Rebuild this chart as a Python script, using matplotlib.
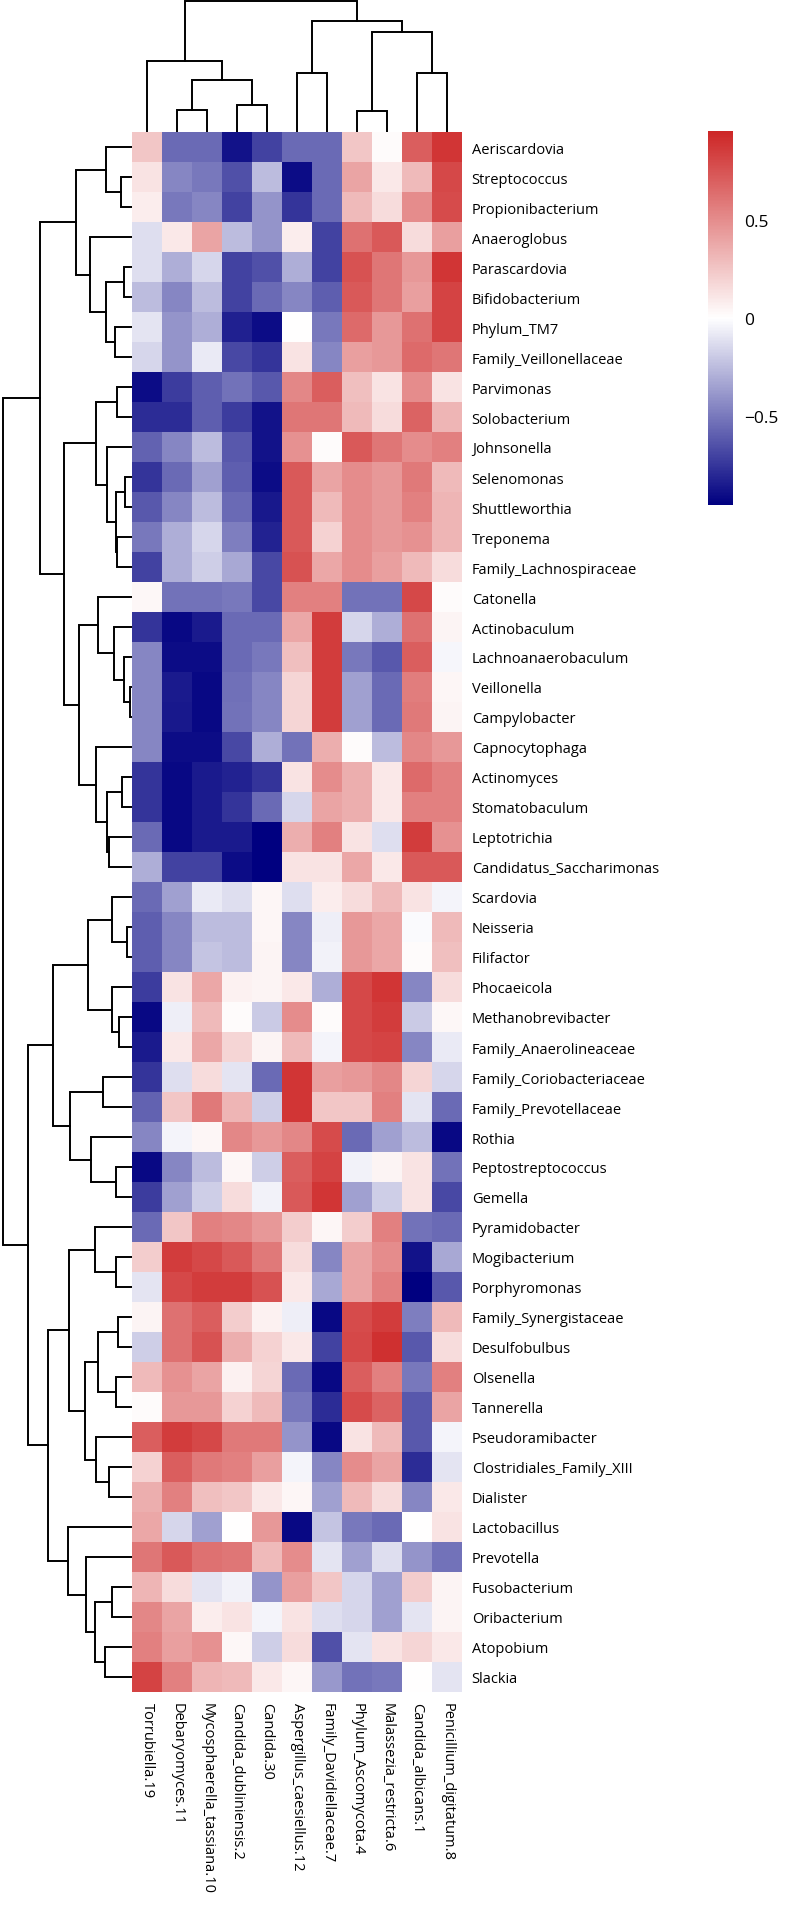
import matplotlib
matplotlib.use('Agg')
import matplotlib.pyplot as plt
from matplotlib.colors import LinearSegmentedColormap
import numpy as np

plt.rcParams['font.family'] = ['Open Sans', 'DejaVu Sans']

fungi = ['Torrubiella.19', 'Debaryomyces.11', 'Mycosphaerella_tassiana.10',
         'Candida_dubliniensis.2', 'Candida.30', 'Aspergillus_caesiellus.12',
         'Family_Davidiellaceae.7', 'Phylum_Ascomycota.4', 'Malassezia_restricta.6',
         'Candida_albicans.1', 'Penicillium_digitatum.8']

bacteria = ['Aeriscardovia', 'Streptococcus', 'Propionibacterium', 'Anaeroglobus',
            'Parascardovia', 'Bifidobacterium', 'Phylum_TM7', 'Family_Veillonellaceae',
            'Parvimonas', 'Solobacterium', 'Johnsonella', 'Selenomonas', 'Shuttleworthia',
            'Treponema', 'Family_Lachnospiraceae', 'Catonella', 'Actinobaculum',
            'Lachnoanaerobaculum', 'Veillonella', 'Campylobacter', 'Capnocytophaga',
            'Actinomyces', 'Stomatobaculum', 'Leptotrichia', 'Candidatus_Saccharimonas',
            'Scardovia', 'Neisseria', 'Filifactor', 'Phocaeicola', 'Methanobrevibacter',
            'Family_Anaerolineaceae', 'Family_Coriobacteriaceae', 'Family_Prevotellaceae',
            'Rothia', 'Peptostreptococcus', 'Gemella', 'Pyramidobacter', 'Mogibacterium',
            'Porphyromonas', 'Family_Synergistaceae', 'Desulfobulbus', 'Olsenella',
            'Tannerella', 'Pseudoramibacter', 'Clostridiales_Family_XIII', 'Dialister',
            'Lactobacillus', 'Prevotella', 'Fusobacterium', 'Oribacterium', 'Atopobium',
            'Slackia']

# correlation values, rows = bacteria, cols = fungi
corr = [
    [0.25, -0.55, -0.55, -0.88, -0.70, -0.55, -0.55, 0.25, 0.02, 0.70, 0.88],
    [0.12, -0.45, -0.50, -0.65, -0.25, -0.90, -0.55, 0.40, 0.10, 0.30, 0.80],
    [0.08, -0.50, -0.45, -0.70, -0.40, -0.75, -0.55, 0.30, 0.15, 0.50, 0.78],
    [-0.12, 0.10, 0.40, -0.25, -0.40, 0.08, -0.70, 0.62, 0.72, 0.15, 0.42],
    [-0.12, -0.30, -0.15, -0.70, -0.65, -0.30, -0.70, 0.75, 0.60, 0.45, 0.88],
    [-0.25, -0.45, -0.25, -0.70, -0.55, -0.45, -0.60, 0.72, 0.60, 0.42, 0.82],
    [-0.10, -0.40, -0.30, -0.83, -0.90, 0.00, -0.50, 0.65, 0.45, 0.62, 0.82],
    [-0.15, -0.40, -0.08, -0.68, -0.75, 0.12, -0.45, 0.42, 0.45, 0.65, 0.60],
    [-0.90, -0.72, -0.60, -0.52, -0.62, 0.52, 0.70, 0.28, 0.12, 0.50, 0.12],
    [-0.78, -0.78, -0.60, -0.72, -0.88, 0.60, 0.60, 0.30, 0.15, 0.68, 0.32],
    [-0.58, -0.45, -0.25, -0.62, -0.88, 0.48, 0.02, 0.72, 0.60, 0.50, 0.55],
    [-0.75, -0.55, -0.35, -0.60, -0.90, 0.72, 0.40, 0.50, 0.45, 0.58, 0.30],
    [-0.62, -0.45, -0.25, -0.55, -0.86, 0.72, 0.30, 0.50, 0.45, 0.55, 0.32],
    [-0.50, -0.30, -0.15, -0.48, -0.82, 0.72, 0.20, 0.50, 0.45, 0.48, 0.32],
    [-0.70, -0.30, -0.18, -0.32, -0.68, 0.75, 0.38, 0.50, 0.42, 0.30, 0.15],
    [0.03, -0.52, -0.52, -0.50, -0.68, 0.55, 0.55, -0.52, -0.52, 0.80, 0.02],
    [-0.75, -0.92, -0.85, -0.55, -0.55, 0.38, 0.85, -0.15, -0.30, 0.62, 0.05],
    [-0.45, -0.90, -0.90, -0.55, -0.50, 0.28, 0.85, -0.50, -0.62, 0.70, -0.03],
    [-0.45, -0.85, -0.92, -0.53, -0.45, 0.18, 0.85, -0.35, -0.55, 0.57, 0.04],
    [-0.45, -0.86, -0.92, -0.52, -0.45, 0.18, 0.85, -0.35, -0.55, 0.58, 0.05],
    [-0.45, -0.90, -0.90, -0.68, -0.30, -0.52, 0.35, 0.02, -0.25, 0.52, 0.45],
    [-0.75, -0.92, -0.85, -0.82, -0.75, 0.12, 0.50, 0.35, 0.10, 0.65, 0.55],
    [-0.75, -0.92, -0.85, -0.75, -0.55, -0.15, 0.40, 0.35, 0.10, 0.55, 0.55],
    [-0.55, -0.92, -0.85, -0.85, -0.95, 0.35, 0.55, 0.12, -0.12, 0.85, 0.48],
    [-0.30, -0.70, -0.70, -0.90, -0.95, 0.12, 0.12, 0.38, 0.10, 0.72, 0.72],
    [-0.55, -0.35, -0.08, -0.12, 0.04, -0.12, 0.08, 0.15, 0.30, 0.12, -0.04],
    [-0.60, -0.45, -0.25, -0.25, 0.04, -0.45, -0.06, 0.45, 0.38, -0.02, 0.30],
    [-0.60, -0.45, -0.22, -0.25, 0.05, -0.45, -0.05, 0.45, 0.38, 0.02, 0.28],
    [-0.72, 0.12, 0.38, 0.06, 0.05, 0.10, -0.30, 0.80, 0.88, -0.45, 0.15],
    [-0.92, -0.06, 0.30, 0.02, -0.20, 0.50, 0.02, 0.80, 0.85, -0.20, 0.03],
    [-0.85, 0.10, 0.38, 0.18, 0.05, 0.30, -0.04, 0.80, 0.82, -0.45, -0.08],
    [-0.75, -0.12, 0.15, -0.10, -0.55, 0.88, 0.42, 0.45, 0.52, 0.18, -0.15],
    [-0.58, 0.25, 0.58, 0.32, -0.18, 0.88, 0.25, 0.25, 0.55, -0.10, -0.55],
    [-0.45, -0.04, 0.04, 0.52, 0.45, 0.52, 0.78, -0.55, -0.35, -0.25, -0.92],
    [-0.92, -0.45, -0.25, 0.04, -0.18, 0.70, 0.82, -0.05, 0.05, 0.12, -0.52],
    [-0.72, -0.35, -0.18, 0.15, -0.05, 0.72, 0.88, -0.35, -0.18, 0.12, -0.68],
    [-0.55, 0.25, 0.55, 0.52, 0.45, 0.22, 0.04, 0.22, 0.55, -0.52, -0.55],
    [0.22, 0.85, 0.80, 0.72, 0.58, 0.15, -0.45, 0.40, 0.50, -0.88, -0.32],
    [-0.10, 0.80, 0.85, 0.85, 0.75, 0.10, -0.32, 0.40, 0.55, -0.98, -0.62],
    [0.05, 0.62, 0.70, 0.22, 0.06, -0.06, -0.92, 0.78, 0.85, -0.48, 0.30],
    [-0.18, 0.62, 0.75, 0.35, 0.20, 0.10, -0.70, 0.80, 0.90, -0.62, 0.15],
    [0.30, 0.48, 0.40, 0.06, 0.18, -0.55, -0.92, 0.70, 0.55, -0.50, 0.55],
    [0.02, 0.45, 0.45, 0.20, 0.30, -0.50, -0.78, 0.78, 0.68, -0.62, 0.40],
    [0.70, 0.85, 0.80, 0.58, 0.58, -0.40, -0.92, 0.12, 0.30, -0.62, -0.04],
    [0.20, 0.70, 0.58, 0.55, 0.42, -0.04, -0.45, 0.50, 0.40, -0.78, -0.10],
    [0.35, 0.55, 0.28, 0.25, 0.10, 0.04, -0.35, 0.30, 0.15, -0.45, 0.10],
    [0.38, -0.15, -0.35, 0.00, 0.45, -0.92, -0.22, -0.50, -0.55, 0.00, 0.12],
    [0.60, 0.72, 0.62, 0.60, 0.30, 0.50, -0.10, -0.35, -0.12, -0.40, -0.52],
    [0.32, 0.15, -0.10, -0.05, -0.40, 0.42, 0.25, -0.15, -0.35, 0.22, 0.05],
    [0.52, 0.40, 0.08, 0.12, -0.04, 0.12, -0.12, -0.15, -0.35, -0.10, 0.05],
    [0.55, 0.42, 0.48, 0.03, -0.18, 0.15, -0.65, -0.10, 0.12, 0.18, 0.10],
    [0.82, 0.55, 0.32, 0.30, 0.10, 0.04, -0.38, -0.52, -0.50, 0.00, -0.10],
]

# dendrograms as (left, right, height); ints are leaf positions
col_tree = ((0, ((1, 2, 67), (3, 4, 80), 157), 213),
            ((5, 6, 177), ((7, 8, 62), (9, 10, 177), 300), 335), 395)

A = (0, (1, 2, 32), 78)
B = (3, ((4, 5, 25), (6, 7, 52), 80), 127)
D = ((8, 9, 45), (10, ((11, 12, 22), (13, 14, 45), 50), 77), 110)
E = (15, (16, (17, (18, 19, 5), 25), 55), 102)
F = (20, ((21, 22, 30), (23, 24, 70), 77), 110)
C = ((25, (26, 27, 15), 60), (28, (29, 30, 40), 60), 132)
G = ((31, 32, 87), (33, (34, 35, 50), 125), 187)
H = ((36, (37, 38, 50), 113),
     (((39, 40, 42), (41, 42, 50), 102), (43, (44, 45, 70), 110), 142), 190)
I = (46, (47, ((48, 49, 60), (50, 51, 82), 112), 138), 195)
row_tree = (((A, B, 170), (D, (E, F, 160), 205), 278),
            ((C, G, 240), (H, I, 255), 315), 392)


def draw_tree(ax, node, sideways):
    if isinstance(node, int):
        return node + 0.5, 0
    left, right, h = node
    p1, h1 = draw_tree(ax, left, sideways)
    p2, h2 = draw_tree(ax, right, sideways)
    pos = [p1, p1, p2, p2]
    hts = [h1, h, h, h2]
    if sideways:
        ax.plot(hts, pos, color='black', lw=1.4, solid_joinstyle='miter')
    else:
        ax.plot(pos, hts, color='black', lw=1.4, solid_joinstyle='miter')
    return (p1 + p2) / 2, h


W, Hpx = 788, 1908
fig = plt.figure(figsize=(W / 100, Hpx / 100), dpi=100)

def box(x0, y0, x1, y1):
    return [x0 / W, 1 - y1 / Hpx, (x1 - x0) / W, (y1 - y0) / Hpx]

cmap = LinearSegmentedColormap.from_list('nwf', ['#000080', '#ffffff', '#CD2626'])
data = np.array(corr)

ax = fig.add_axes(box(132, 133, 462, 1693))
mesh = ax.pcolormesh(data, cmap=cmap, vmin=-0.95, vmax=0.95)
ax.set_xlim(0, len(fungi))
ax.set_ylim(len(bacteria), 0)
ax.set_xticks(np.arange(len(fungi)) + 0.5)
ax.set_xticklabels(fungi, rotation=-90, fontsize=10.5, va='top', ha='center')
ax.set_yticks(np.arange(len(bacteria)) + 0.5)
ax.set_yticklabels(bacteria, fontsize=10.5)
ax.yaxis.tick_right()
ax.tick_params(length=0, pad=7)
for s in ax.spines.values():
    s.set_visible(False)

axr = fig.add_axes(box(0, 133, 132, 1693))
draw_tree(axr, row_tree, True)
axr.set_xlim(400, 0)
axr.set_ylim(len(bacteria), 0)
axr.axis('off')

axc = fig.add_axes(box(132, 0, 462, 133))
draw_tree(axc, col_tree, False)
axc.set_xlim(0, len(fungi))
axc.set_ylim(0, 400)
axc.axis('off')

cax = fig.add_axes(box(708, 132, 733, 506))
cb = fig.colorbar(mesh, cax=cax, ticks=[-0.5, 0, 0.5])
cb.set_ticklabels(['\u22120.5', '0', '0.5'])
cb.outline.set_visible(False)
cax.tick_params(length=0, labelsize=12.5, pad=8)

fig.savefig('out.png', dpi=100)
